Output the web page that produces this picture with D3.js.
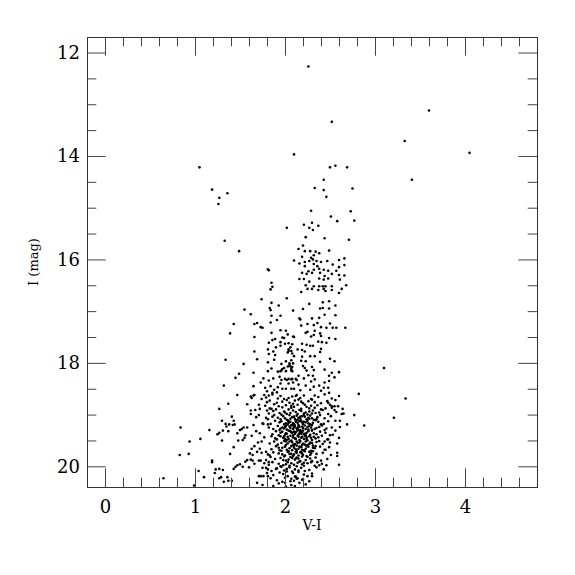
<!DOCTYPE html>
<html><head><meta charset="utf-8">
<script src="https://cdn.jsdelivr.net/npm/d3@7"></script>
<style>body{margin:0;background:#fff}</style>
</head><body>
<svg id="chart" width="575" height="575"></svg>
<script>
// [V-I, I] pairs
const brightStars = [[2.26,12.27],[3.60,13.12],[2.52,13.34],[3.33,13.71],[4.05,13.94],[2.10,13.97],[1.05,14.22],[2.50,14.22],[2.56,14.19],[2.69,14.22],[3.41,14.46],[2.43,14.46],[1.19,14.65],[1.36,14.72],[1.27,14.81],[1.26,14.93],[2.33,14.62],[2.43,14.66],[2.75,14.63],[2.46,14.79]];

const giantBranch = [[2.29,15.06],[2.73,15.07],[2.51,15.17],[2.77,15.25],[2.58,15.26],[2.02,15.39],[2.21,15.33],[2.30,15.29],[2.37,15.35],[2.27,15.39],[2.31,15.43],[1.33,15.64],[1.49,15.84],[2.44,15.59],[2.71,15.62],[2.23,15.57],[2.20,15.73],[2.15,15.80],[2.22,15.84],[2.28,15.84],[2.34,15.85],[2.38,15.88],[2.49,15.83],[2.32,15.92],[2.19,15.95],[2.29,15.97],[2.31,16.00],[2.10,16.02],[2.27,16.03],[2.22,16.05],[2.35,16.03],[2.40,16.05],[2.47,16.03],[2.60,16.01],[2.66,15.98],[2.16,16.08],[2.32,16.09],[2.22,16.13],[2.53,16.10],[2.66,16.11],[2.36,16.13],[2.60,16.15],[2.38,16.18],[2.43,16.20],[2.48,16.22],[2.57,16.22],[2.32,16.20],[2.26,16.23],[1.81,16.19],[1.82,16.21],[2.19,16.26],[2.24,16.28],[2.30,16.26],[2.39,16.26],[2.52,16.28],[2.60,16.30],[2.66,16.31],[2.44,16.32],[2.48,16.37],[2.16,16.38],[2.21,16.38],[2.38,16.37],[2.43,16.39],[2.61,16.39],[2.27,16.43],[1.85,16.45],[1.86,16.53],[1.84,16.58],[2.23,16.50],[2.32,16.52],[2.38,16.52],[2.42,16.52],[2.45,16.52],[2.52,16.52],[2.68,16.50],[2.25,16.57],[2.30,16.57],[2.37,16.59],[2.43,16.57],[2.52,16.59],[2.63,16.57],[2.18,16.63],[2.45,16.61],[2.60,16.65],[1.74,16.77],[2.02,16.75],[1.85,16.84],[2.27,16.86],[2.42,16.83],[2.49,16.81],[2.56,16.89],[1.93,16.89],[1.83,16.94],[1.84,16.98],[1.55,16.97],[1.62,17.06],[2.09,16.99],[2.20,16.96],[2.39,16.95],[2.49,16.95],[2.42,16.94],[2.44,17.07],[2.56,17.08],[1.85,17.09],[1.95,17.09],[2.16,17.14],[2.30,17.14],[2.38,17.13]];

const subgiantBranch = [[1.43,17.25],[1.39,17.43],[1.66,17.25],[1.69,17.23],[1.84,17.22],[1.91,17.17],[1.75,17.32],[1.73,17.31],[1.95,17.37],[2.01,17.38],[1.85,17.42],[1.66,17.50],[2.03,17.45],[2.10,17.50],[1.97,17.51],[1.89,17.54],[1.86,17.56],[1.82,17.61],[1.95,17.60],[2.00,17.63],[2.08,17.64],[1.95,17.67],[1.90,17.70],[1.81,17.74],[2.06,17.70],[2.14,17.74],[1.87,17.78],[1.66,17.78],[1.82,17.83],[1.89,17.85],[2.04,17.77],[2.08,17.82],[2.10,17.87],[1.69,17.93],[1.34,17.94],[1.54,18.02],[1.81,17.99],[1.88,17.94],[2.01,17.97],[2.07,17.95],[2.05,18.01],[2.03,18.07],[2.08,18.08],[1.85,18.11],[1.81,18.16],[1.92,18.17],[1.96,18.15],[1.99,18.10],[2.08,18.16],[1.49,18.21],[1.65,18.19],[1.45,18.29],[1.76,18.30],[1.82,18.34],[1.87,18.30],[1.94,18.27],[2.02,18.33],[2.07,18.32],[2.13,18.33],[1.73,18.38],[1.32,18.44],[1.65,18.45],[1.47,18.62],[1.63,18.68],[1.66,18.62],[1.84,18.45],[1.88,18.52],[1.92,18.47],[1.86,18.58],[1.80,18.55],[1.91,18.57],[1.78,18.48],
[2.17,17.16],[2.25,17.25],[2.32,17.27],[2.36,17.23],[2.18,17.28],[2.40,17.31],[2.50,17.24],[2.53,17.32],[2.46,17.32],[2.57,17.32],[2.67,17.32],[2.33,17.38],[2.25,17.40],[2.23,17.42],[2.39,17.43],[2.29,17.49],[2.32,17.46],[2.40,17.48],[1.99,17.52],[2.09,17.49],[2.49,17.52],[2.56,17.54],[2.37,17.59],[2.41,17.60],[2.46,17.61],[2.04,17.62],[2.19,17.63],[2.24,17.65],[2.28,17.67],[2.31,17.67],[2.40,17.73],[2.04,17.74],[2.03,17.80],[2.07,17.77],[2.19,17.75],[2.22,17.78],[2.28,17.87],[2.33,17.87],[2.39,17.79],[2.19,17.88],[2.50,17.92],[2.55,17.97],[2.18,17.96],[2.23,17.97],[2.39,17.98],[1.96,18.02],[2.05,18.04],[2.06,18.07],[2.09,18.01],[1.97,18.12],[2.07,18.12],[2.07,18.15],[2.20,18.06],[2.22,18.10],[2.24,18.15],[2.30,18.08],[2.32,18.14],[2.44,18.13],[2.49,18.25],[2.52,18.19],[2.60,18.18],[2.55,18.28],[3.10,18.10],[1.95,18.16],[2.01,18.16],[2.15,18.25],[2.26,18.24],[2.31,18.25],[2.00,18.31],[2.04,18.31],[2.08,18.31],[2.12,18.31],[2.21,18.30],[2.33,18.32],[2.49,18.35],[2.29,18.36],[1.96,18.33],[1.95,18.40],[2.04,18.40],[2.09,18.38],[2.15,18.42],[2.23,18.44],[2.32,18.46],[2.38,18.44],[2.43,18.48],[2.48,18.48],[2.44,18.38],[1.97,18.50],[2.01,18.50],[2.07,18.50],[2.10,18.50],[2.17,18.53],[2.28,18.52],[2.40,18.54],[2.49,18.58],[2.82,18.60],[3.34,18.69]];

const faintStars = [[0.84,19.25],[0.94,19.52],[0.83,19.78],[0.93,19.76],[1.06,19.47],[1.16,19.30],[0.65,20.23],[0.99,20.37],[1.04,20.09],[1.10,20.21],[1.19,19.89],[1.19,19.92],[1.22,20.13],[1.23,20.06],[1.27,20.23],[1.27,20.05],[1.29,20.21],[1.32,20.30],[1.36,20.21],[1.37,20.28],[1.41,20.28],[1.31,20.07],[1.27,18.89],[1.37,18.79],[1.62,18.65],[1.65,18.63],[1.30,19.12],[1.25,19.38],[1.27,19.35],[1.31,19.31],[1.34,19.18],[1.35,19.23],[1.38,19.19],[1.37,19.32],[1.30,19.50],[1.41,19.04],[1.43,19.12],[1.42,19.20],[1.44,19.19],[1.47,19.36],[1.50,19.30],[1.52,19.28],[1.48,19.50],[1.39,19.76],[1.43,19.63],[1.47,19.98],[1.45,20.01],[1.43,20.05],[1.50,19.96],[1.53,20.01],[1.56,19.91],[1.58,19.88],[1.60,20.02],[1.62,19.87],[1.64,19.89],[1.66,19.95],[1.64,19.78],[1.54,19.25],[1.53,19.49],[1.55,19.45],[1.56,19.40],[1.58,19.25],[1.58,18.80],[1.62,18.99],[1.62,18.92],[1.68,19.05],[1.67,18.91],[1.72,18.89],[1.71,18.81],[1.71,19.01],[1.74,18.70],[1.77,18.62],[1.82,18.63],[1.75,19.17],[1.76,19.18],[1.81,19.19],[1.79,19.06],[1.65,19.20],[1.68,19.32],[1.63,19.41],[1.70,19.54],[1.74,19.52],[1.72,19.36],[1.77,19.44],[1.66,19.61],[1.63,19.66],[1.61,19.75],[1.69,19.72],[1.72,19.66],[1.74,19.74],[1.79,19.72],[1.81,19.77],[1.73,19.89],[1.71,19.89],[1.75,20.03],[1.79,20.03],[1.79,19.88],[1.82,19.92],[1.77,19.94],[1.71,20.19],[1.76,20.19],[1.81,20.19],[1.69,20.32],[1.75,20.36],[1.80,18.92],[1.83,18.88],
[2.77,19.01],[2.88,19.21],[2.69,19.19],[2.60,19.97],[2.58,19.74],[2.58,19.80],[2.58,19.56],[2.63,18.99],[2.64,18.89],[2.56,19.12],[2.61,19.12],[3.21,19.06],[2.65,18.98],[2.59,18.84],[2.55,18.84],[2.50,18.81],[2.61,19.24],[2.56,19.31],[2.52,19.25],[2.50,19.40],[2.47,19.48],[2.44,19.52],[2.49,19.63],[2.44,19.68],[2.52,18.87],
[1.90,20.05],[1.81,20.06],[1.73,20.19],[2.00,20.32],[2.07,20.24],[2.11,20.20],[2.14,20.23],[2.20,20.25],[2.30,20.19],[2.38,19.98],[2.46,19.98],[2.02,20.10]];

// main-sequence turnoff core, estimated star by star
const turnoffCore = [
[1.86,18.61],[2.21,18.63],[2.04,18.68],[2.37,18.66],[1.95,18.64],[2.52,18.69],[2.13,18.62],[2.29,18.70],[1.79,18.67],[2.08,18.65],[2.44,18.61],[1.99,18.70],[2.17,18.68],[2.60,18.64],
[2.02,18.72],[2.26,18.74],[1.91,18.77],[2.15,18.71],[2.40,18.78],[1.83,18.73],[2.09,18.79],[2.33,18.76],[2.56,18.72],[1.97,18.75],[2.20,18.78],[2.47,18.74],[2.11,18.73],[1.88,18.80],[2.30,18.71],[2.05,18.77],
[2.14,18.81],[1.93,18.84],[2.36,18.82],[2.07,18.87],[2.24,18.85],[1.85,18.89],[2.45,18.88],[2.01,18.82],[2.18,18.89],[2.29,18.83],[1.97,18.86],[2.52,18.84],[2.10,18.85],[2.40,18.90],[2.22,18.81],[1.78,18.83],[2.04,18.90],[2.33,18.87],
[2.09,18.92],[2.27,18.94],[1.94,18.97],[2.16,18.91],[2.38,18.96],[2.02,18.99],[2.21,18.98],[1.87,18.93],[2.12,18.95],[2.31,18.92],[2.48,18.99],[1.99,18.94],[2.06,18.97],[2.25,19.00],[2.18,18.93],[1.82,18.98],[2.42,18.91],[2.14,18.99],[2.34,18.97],[1.96,19.00],[2.57,18.95],[2.23,18.96],
[2.05,19.01],[2.19,19.03],[1.92,19.06],[2.28,19.02],[2.11,19.08],[2.36,19.05],[1.98,19.03],[2.15,19.06],[2.24,19.09],[2.02,19.10],[2.44,19.07],[1.86,19.04],[2.08,19.05],[2.21,19.01],[2.32,19.10],[2.13,19.02],[1.95,19.09],[2.17,19.08],[2.26,19.06],[2.00,19.07],[2.51,19.03],[2.10,19.04],[2.39,19.01],[1.81,19.09],[2.22,19.04],[2.06,19.08],[2.30,19.07],[2.14,19.10],
[2.03,19.11],[2.16,19.13],[2.25,19.12],[1.94,19.15],[2.09,19.17],[2.31,19.16],[2.12,19.11],[2.20,19.18],[1.99,19.19],[2.37,19.14],[2.06,19.14],[2.28,19.19],[2.14,19.16],[1.89,19.12],[2.23,19.15],[2.01,19.17],[2.43,19.18],[2.18,19.12],[2.10,19.19],[2.34,19.11],[1.96,19.13],[2.07,19.20],[2.26,19.17],[2.15,19.20],[1.84,19.18],[2.21,19.14],[2.48,19.13],[2.04,19.16],[2.12,19.14],[2.30,19.20],
[2.08,19.21],[2.19,19.23],[1.97,19.25],[2.27,19.22],[2.13,19.27],[2.02,19.29],[2.35,19.26],[2.16,19.24],[2.23,19.28],[1.92,19.22],[2.10,19.25],[2.30,19.30],[2.05,19.23],[2.20,19.26],[1.87,19.28],[2.41,19.21],[2.14,19.29],[1.99,19.27],[2.25,19.24],[2.11,19.21],[2.33,19.28],[2.06,19.26],[2.17,19.30],[2.29,19.25],[1.94,19.30],[2.46,19.27],[2.01,19.22],[2.22,19.21],[2.09,19.28],[2.38,19.24],[2.15,19.22],[1.82,19.25],
[2.04,19.31],[2.18,19.33],[2.26,19.32],[1.95,19.35],[2.11,19.37],[2.32,19.36],[2.07,19.34],[2.21,19.38],[2.00,19.39],[2.14,19.31],[2.39,19.33],[1.90,19.32],[2.24,19.35],[2.09,19.40],[2.16,19.36],[2.28,19.39],[2.02,19.37],[1.86,19.38],[2.20,19.31],[2.12,19.34],[2.35,19.38],[1.97,19.33],[2.45,19.35],[2.06,19.32],[2.23,19.40],[2.15,19.39],[2.30,19.31],[2.01,19.36],[1.93,19.40],[2.18,19.37],[2.53,19.39],[2.10,19.33],
[2.06,19.41],[2.19,19.43],[1.98,19.45],[2.27,19.42],[2.12,19.47],[2.34,19.46],[2.03,19.43],[2.16,19.49],[2.24,19.44],[1.91,19.48],[2.09,19.44],[2.41,19.41],[2.21,19.47],[1.85,19.42],[2.14,19.41],[2.30,19.49],[2.00,19.47],[2.18,19.45],[2.07,19.50],[2.37,19.44],[1.95,19.42],[2.25,19.50],[2.11,19.46],[2.48,19.48],[2.02,19.49],[2.22,19.41],[1.89,19.46],[2.32,19.43],[2.15,19.43],[2.60,19.45],
[2.05,19.52],[2.17,19.51],[2.28,19.54],[1.96,19.55],[2.11,19.57],[2.35,19.53],[2.01,19.59],[2.20,19.56],[2.08,19.53],[2.25,19.59],[1.88,19.52],[2.14,19.55],[2.42,19.57],[1.99,19.51],[2.31,19.60],[2.09,19.58],[2.19,19.59],[1.92,19.58],[2.23,19.52],[2.13,19.60],[2.03,19.56],[2.38,19.51],[2.16,19.54],[1.83,19.56],[2.27,19.57],[2.50,19.54],
[2.07,19.61],[2.18,19.63],[1.97,19.64],[2.26,19.62],[2.12,19.67],[2.33,19.65],[2.02,19.68],[2.21,19.69],[1.90,19.61],[2.10,19.64],[2.29,19.70],[2.15,19.66],[1.94,19.69],[2.39,19.62],[2.05,19.65],[2.23,19.66],[1.85,19.67],[2.13,19.70],[2.31,19.64],[2.00,19.62],[2.19,19.68],[2.45,19.68],[2.08,19.69],[2.24,19.61],[1.96,19.70],[2.16,19.62],
[2.04,19.71],[2.17,19.73],[1.93,19.75],[2.27,19.72],[2.10,19.77],[2.35,19.76],[2.00,19.79],[2.20,19.78],[2.13,19.74],[1.87,19.73],[2.24,19.80],[2.07,19.76],[2.31,19.71],[1.97,19.77],[2.15,19.79],[2.42,19.74],[2.03,19.72],[2.19,19.75],[1.83,19.79],[2.28,19.78],[2.09,19.80],[2.22,19.71],[2.51,19.78],[2.12,19.72],
[2.06,19.82],[2.19,19.81],[1.95,19.84],[2.28,19.85],[2.11,19.87],[2.01,19.89],[2.34,19.83],[2.15,19.85],[1.89,19.86],[2.23,19.88],[2.08,19.84],[2.40,19.89],[1.99,19.81],[2.17,19.90],[2.30,19.90],[2.04,19.87],[1.84,19.82],[2.13,19.83],[2.25,19.82],[2.47,19.86],
[2.03,19.92],[2.16,19.91],[1.93,19.95],[2.25,19.94],[2.10,19.97],[2.33,19.99],[1.98,19.98],[2.19,19.96],[1.86,19.92],[2.07,19.94],[2.29,19.92],[2.13,20.00],[1.95,20.00],[2.41,19.95],[2.21,19.99],[2.01,19.96],[1.82,19.97],[2.14,19.93],
[2.05,20.02],[1.91,20.04],[2.18,20.03],[2.27,20.07],[1.99,20.08],[2.11,20.06],[2.35,20.02],[1.85,20.09],[2.08,20.10],[2.22,20.09],[1.96,20.01],[2.15,20.08],[2.02,20.05],[2.43,20.06],
[1.94,20.12],[2.09,20.13],[2.21,20.16],[1.87,20.17],[2.03,20.19],[2.15,20.11],[2.30,20.14],[1.98,20.15],[2.12,20.20],[1.80,20.13],[2.25,20.19],
[2.00,20.22],[2.13,20.24],[1.91,20.27],[2.06,20.29],[2.19,20.26],[1.84,20.23],[2.27,20.29],[1.97,20.30],[2.10,20.28],
[1.93,20.33],[2.07,20.36],[2.16,20.32],[1.87,20.38],[2.01,20.39],[2.23,20.35],[2.11,20.38]
];

const turnoffExtra = [[2.12,18.64],[1.92,18.69],[2.33,18.63],[2.48,18.77],[1.80,18.76],[2.18,18.75],[2.07,18.83],[2.27,18.88],[1.90,18.90],[2.55,18.91],[2.00,18.96],[2.30,18.98],[2.17,19.04],[1.88,19.01],[2.35,19.09],[2.04,19.13],[2.19,19.15],[2.40,19.19],[2.11,19.23],[2.00,19.24],[2.26,19.29],[2.44,19.30],[2.08,19.35],[2.19,19.34],[1.99,19.42],[2.29,19.45],[2.13,19.52],[2.04,19.47],[2.22,19.58],[2.34,19.61],[2.10,19.60],[1.93,19.64],[2.18,19.72],[2.05,19.76],[2.29,19.75],[2.12,19.85],[1.98,19.88],[2.21,19.93],[2.36,19.92],[2.05,19.99],[2.17,19.32],[2.09,19.44],[2.22,19.37],[2.14,19.26],[2.03,19.19],[2.27,19.08],[2.01,19.52],[2.30,19.55],[1.95,19.27],[2.24,19.47]];

const xMajorTicks = [0,1,2,3,4];
const xMinorTicks = [0.2,0.4,0.6,0.8,1.2,1.4,1.6,1.8,2.2,2.4,2.6,2.8,3.2,3.4,3.6,3.8,4.2,4.4,4.6];
const yMajorTicks = [12,14,16,18,20];
const yMinorTicks = [12.5,13,13.5,14.5,15,15.5,16.5,17,17.5,18.5,19,19.5];
const xTitle = "V-I";
const yTitle = "I (mag)";

const svg = d3.select("#chart");
const L = 87, T = 37, W = 450, H = 450;
const x = d3.scaleLinear().domain([-0.2, 4.8]).range([L, L + W]);
const y = d3.scaleLinear().domain([11.7, 20.4]).range([T, T + H]);

const allPoints = [...brightStars, ...giantBranch, ...subgiantBranch, ...faintStars, ...turnoffCore, ...turnoffExtra];

svg.append("g").selectAll("circle").data(allPoints).join("circle")
  .attr("cx", d => x(d[0])).attr("cy", d => y(d[1])).attr("r", 1.3).attr("fill", "#000");

const tickColor = "#444";
function styleAxis(g) {
  g.select(".domain").remove();
  g.selectAll(".tick line").attr("stroke", tickColor);
  g.selectAll(".tick text").attr("font-family", "DejaVu Serif, serif").attr("font-size", 18).attr("fill", "#000");
}
const MAJ = 18.7, MIN = 9.3;
// bottom
svg.append("g").attr("transform", `translate(0,${T+H})`)
  .call(d3.axisBottom(x).tickValues(xMajorTicks).tickSize(-MAJ).tickPadding(13).tickFormat(d3.format("d"))).call(styleAxis);
svg.append("g").attr("transform", `translate(0,${T+H})`)
  .call(d3.axisBottom(x).tickValues(xMinorTicks).tickSize(-MIN).tickFormat("")).call(styleAxis);
// top
svg.append("g").attr("transform", `translate(0,${T})`)
  .call(d3.axisTop(x).tickValues(xMajorTicks).tickSize(-MAJ).tickFormat("")).call(styleAxis);
svg.append("g").attr("transform", `translate(0,${T})`)
  .call(d3.axisTop(x).tickValues(xMinorTicks).tickSize(-MIN).tickFormat("")).call(styleAxis);
// left
svg.append("g").attr("transform", `translate(${L},0)`)
  .call(d3.axisLeft(y).tickValues(yMajorTicks).tickSize(-MAJ).tickPadding(7).tickFormat(d3.format("d"))).call(styleAxis);
svg.append("g").attr("transform", `translate(${L},0)`)
  .call(d3.axisLeft(y).tickValues(yMinorTicks).tickSize(-MIN).tickFormat("")).call(styleAxis);
// right
svg.append("g").attr("transform", `translate(${L+W},0)`)
  .call(d3.axisRight(y).tickValues(yMajorTicks).tickSize(-MAJ).tickFormat("")).call(styleAxis);
svg.append("g").attr("transform", `translate(${L+W},0)`)
  .call(d3.axisRight(y).tickValues(yMinorTicks).tickSize(-MIN).tickFormat("")).call(styleAxis);

svg.append("rect").attr("x", L + 0.5).attr("y", T + 0.5).attr("width", W).attr("height", H)
  .attr("fill", "none").attr("stroke", "#333").attr("stroke-width", 1);

svg.append("text").attr("x", L + W / 2).attr("y", 530).attr("text-anchor", "middle")
  .attr("font-family", "DejaVu Serif, serif").attr("font-size", 14).text(xTitle);
svg.append("text").attr("transform", `translate(38,${T + H / 2}) rotate(-90)`).attr("text-anchor", "middle")
  .attr("font-family", "DejaVu Serif, serif").attr("font-size", 13).text(yTitle);
</script>
</body></html>
